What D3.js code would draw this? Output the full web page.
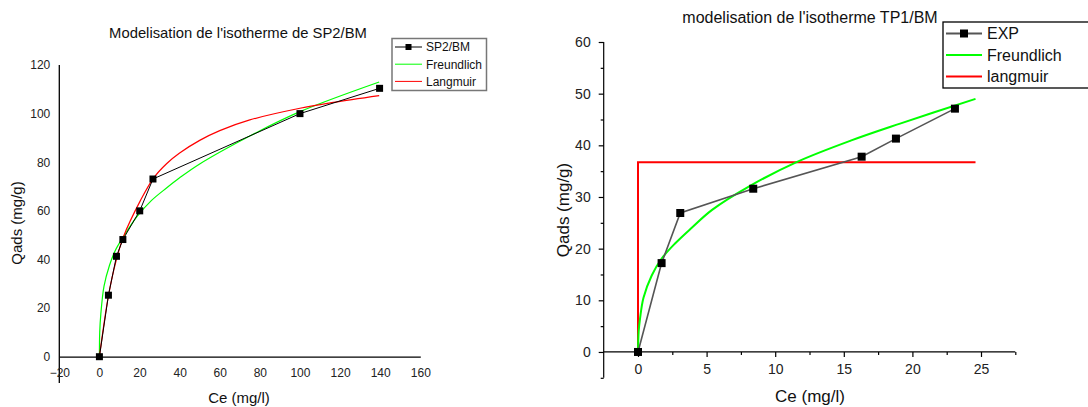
<!DOCTYPE html>
<html>
<head>
<meta charset="utf-8">
<script src="https://cdn.jsdelivr.net/npm/d3@7"></script>
<style>
  body { margin: 0; background: #fff; }
  svg { display: block; font-family: "Liberation Sans", Arial, sans-serif; }
</style>
</head>
<body>
<svg id="chart" width="1088" height="407"></svg>
<script>
// ---------- left panel : SP2/BM ----------
const sp2Ce   = [0, 4.5, 8.5, 11.7, 20.1, 26.7, 100, 139.7]
const sp2Qads = [0, 25.3, 41.3, 48.2, 60, 73.1, 100, 110.4]

const sp2FreundCe = [0, 0.15, 0.7, 2.3, 5, 7.8, 12, 18.7, 26, 33.6, 40, 50, 75, 100, 139.5]
const sp2FreundQ  = [0, 10, 17.5, 29, 37.5, 43.5, 49.4, 57.6, 64.3, 69.5, 73.6, 79.3, 90.8, 100.8, 113]

const sp2LangCe = [0, 4.5, 8.4, 12, 20.3, 26.9, 33.6, 40, 50, 60, 75, 100, 116.7, 139.5]
const sp2LangQ  = [0, 25, 39.7, 49.4, 64, 73.4, 79.5, 83.8, 89, 93, 97.4, 102.2, 104.6, 107.4]

const leftXTicks = [-20, 0, 20, 40, 60, 80, 100, 120, 140, 160]
const leftYTicks = [0, 20, 40, 60, 80, 100, 120]

// ---------- right panel : TP1/BM ----------
const tp1Ce   = [0, 1.72, 3.08, 8.4, 16.3, 18.8, 23.1]
const tp1Qads = [0, 17.2, 26.9, 31.6, 37.8, 41.3, 47.1]

const tp1FreundCe = [0, 0.05, 0.15, 0.4, 1, 1.7, 2.7, 3.9, 5.4, 8.2, 11.6, 15.5, 19.1, 24.6]
const tp1FreundQ  = [0, 4, 6.5, 10.5, 14.8, 18, 21, 24, 27.5, 32.2, 36.8, 40.9, 44.2, 49]

const tp1LangCe = [0, 0, 24.6]
const tp1LangQ  = [0, 36.7, 36.7]

const rightXTicks = [0, 2.5, 5, 7.5, 10, 12.5, 15, 17.5, 20, 22.5, 25, 27.5]
const rightYTicks = [-5, 0, 5, 10, 15, 20, 25, 30, 35, 40, 45, 50, 55, 60]

const zip = (xs, ys) => xs.map((x, i) => [x, ys[i]])

const svg = d3.select('#chart')

//========================== left chart ================================
let xL = d3.scaleLinear().domain([-20, 160]).range([59.3, 420.3])
let yL = d3.scaleLinear().domain([0, 120]).range([356.7, 65])

let gL = svg.append('g')

gL.append('text')
  .attr('x', 238).attr('y', 38)
  .attr('text-anchor', 'middle')
  .attr('font-size', 14.8).attr('fill', '#111')
  .text("Modelisation de l'isotherme de SP2/BM")

let axLY = gL.append('g')
  .attr('transform', `translate(${xL(-20)},0)`)
  .call(d3.axisLeft(yL).tickValues(leftYTicks).tickSize(0).tickPadding(9))
axLY.select('.domain').remove()
axLY.selectAll('text').attr('font-size', 12).attr('fill', '#222').attr('font-family', null)
gL.append('line')
  .attr('x1', xL(-20)).attr('x2', xL(-20))
  .attr('y1', yL(120)).attr('y2', 383)
  .attr('stroke', '#000').attr('stroke-width', 1.3)

let axLX = gL.append('g')
  .attr('transform', `translate(0,${yL(0)})`)
  .call(d3.axisBottom(xL).tickValues(leftXTicks).tickSize(0).tickPadding(12))
axLX.select('.domain').attr('stroke', '#000').attr('stroke-width', 1.3)
axLX.selectAll('text').attr('font-size', 12).attr('fill', '#222').attr('font-family', null)

gL.append('text')
  .attr('transform', 'translate(22,223) rotate(-90)')
  .attr('text-anchor', 'middle')
  .attr('font-size', 15).attr('fill', '#111')
  .text('Qads (mg/g)')
gL.append('text')
  .attr('x', 239).attr('y', 403)
  .attr('text-anchor', 'middle')
  .attr('font-size', 15).attr('fill', '#111')
  .text('Ce (mg/l)')

let lineL = d3.line().x(d => xL(d[0])).y(d => yL(d[1]))
let smoothL = d3.line().x(d => xL(d[0])).y(d => yL(d[1])).curve(d3.curveCatmullRom.alpha(0.5))

gL.append('path').datum(zip(sp2FreundCe, sp2FreundQ))
  .attr('d', smoothL).attr('fill', 'none').attr('stroke', '#00ff00').attr('stroke-width', 1.2)
gL.append('path').datum(zip(sp2LangCe, sp2LangQ))
  .attr('d', smoothL).attr('fill', 'none').attr('stroke', '#ff0000').attr('stroke-width', 1.2)
gL.append('path').datum(zip(sp2Ce, sp2Qads))
  .attr('d', lineL).attr('fill', 'none').attr('stroke', '#000').attr('stroke-width', 1)
gL.selectAll('rect.pt').data(zip(sp2Ce, sp2Qads)).join('rect')
  .attr('class', 'pt')
  .attr('x', d => xL(d[0]) - 3.5).attr('y', d => yL(d[1]) - 3.5)
  .attr('width', 7).attr('height', 7).attr('fill', '#000')

// legend
let legL = gL.append('g')
legL.append('rect')
  .attr('x', 392).attr('y', 38.5).attr('width', 94.5).attr('height', 52)
  .attr('fill', '#fff').attr('stroke', '#777').attr('stroke-width', 1.5)
let legLItems = [
  {name: 'SP2/BM', color: '#000', marker: true},
  {name: 'Freundlich', color: '#00ff00'},
  {name: 'Langmuir', color: '#ff0000'}
]
legLItems.forEach((it, i) => {
  let cy = 47 + i * 17.2
  legL.append('line').attr('x1', 395).attr('x2', 422).attr('y1', cy).attr('y2', cy)
    .attr('stroke', it.color).attr('stroke-width', 1)
  if (it.marker) {
    legL.append('rect').attr('x', 405.5).attr('y', cy - 3).attr('width', 6).attr('height', 6).attr('fill', '#000')
  }
  legL.append('text').attr('x', 426).attr('y', cy + 4.3)
    .attr('font-size', 12).attr('fill', '#111').text(it.name)
})

//========================== right chart ================================
let xR = d3.scaleLinear().domain([-2.5, 27.5]).range([603.7, 1015.3])
let yR = d3.scaleLinear().domain([-5, 60]).range([377.8, 42])

let gR = svg.append('g')

gR.append('text')
  .attr('x', 810).attr('y', 23)
  .attr('text-anchor', 'middle')
  .attr('font-size', 16).attr('fill', '#111')
  .text("modelisation de l'isotherme TP1/BM")

let axRY = gR.append('g')
  .attr('transform', `translate(${xR(-2.5)},0)`)
  .call(d3.axisLeft(yR).tickValues(rightYTicks).tickSize(5).tickPadding(8)
    .tickFormat(d => (d >= 0 && d % 10 === 0) ? d : ''))
axRY.select('.domain').attr('stroke', '#000').attr('stroke-width', 1.2).attr('d', `M0,${yR(-5)}V${yR(60)}`)
axRY.selectAll('.tick line').attr('stroke-width', 1.2).attr('x2', d => d % 10 === 0 ? -5 : -3)
axRY.selectAll('text').attr('font-size', 14).attr('fill', '#222').attr('font-family', null)

let axRX = gR.append('g')
  .attr('transform', `translate(0,${yR(0)})`)
  .call(d3.axisBottom(xR).tickValues(rightXTicks).tickSize(5).tickPadding(7)
    .tickFormat(d => d % 5 === 0 ? d : ''))
axRX.select('.domain').attr('stroke', '#000').attr('stroke-width', 1.2).attr('d', `M${xR(-2.5)},0H${xR(27.5)}`)
axRX.selectAll('.tick line').attr('stroke-width', 1.2).attr('y2', d => d % 5 === 0 ? 5 : 3)
axRX.selectAll('text').attr('font-size', 14).attr('fill', '#222').attr('font-family', null)

gR.append('text')
  .attr('transform', 'translate(569,210) rotate(-90)')
  .attr('text-anchor', 'middle')
  .attr('font-size', 17).attr('fill', '#111')
  .text('Qads (mg/g)')
gR.append('text')
  .attr('x', 810).attr('y', 402)
  .attr('text-anchor', 'middle')
  .attr('font-size', 17).attr('fill', '#111')
  .text('Ce (mg/l)')

let lineR = d3.line().x(d => xR(d[0])).y(d => yR(d[1]))
let smoothR = d3.line().x(d => xR(d[0])).y(d => yR(d[1])).curve(d3.curveCatmullRom.alpha(0.5))

gR.append('path').datum(zip(tp1LangCe, tp1LangQ))
  .attr('d', lineR).attr('fill', 'none').attr('stroke', '#ff0000').attr('stroke-width', 2)
gR.append('path').datum(zip(tp1FreundCe, tp1FreundQ))
  .attr('d', smoothR).attr('fill', 'none').attr('stroke', '#00ff00').attr('stroke-width', 2)
gR.append('path').datum(zip(tp1Ce, tp1Qads))
  .attr('d', lineR).attr('fill', 'none').attr('stroke', '#555').attr('stroke-width', 1.6)
gR.selectAll('rect.pt').data(zip(tp1Ce, tp1Qads)).join('rect')
  .attr('class', 'pt')
  .attr('x', d => xR(d[0]) - 4).attr('y', d => yR(d[1]) - 4)
  .attr('width', 8).attr('height', 8).attr('fill', '#000')

// legend (runs past the right edge like the original)
let legR = gR.append('g')
legR.append('rect')
  .attr('x', 943).attr('y', 22).attr('width', 160).attr('height', 66)
  .attr('fill', '#fff').attr('stroke', '#000').attr('stroke-width', 1.3)
let legRItems = [
  {name: 'EXP', color: '#555', marker: true},
  {name: 'Freundlich', color: '#00ff00'},
  {name: 'langmuir', color: '#ff0000'}
]
legRItems.forEach((it, i) => {
  let cy = 33.5 + i * 21.5
  legR.append('line').attr('x1', 946).attr('x2', 982).attr('y1', cy).attr('y2', cy)
    .attr('stroke', it.color).attr('stroke-width', 2)
  if (it.marker) {
    legR.append('rect').attr('x', 960).attr('y', cy - 4).attr('width', 8).attr('height', 8).attr('fill', '#000')
  }
  legR.append('text').attr('x', 987).attr('y', cy + 5.8)
    .attr('font-size', 16).attr('fill', '#111').text(it.name)
})
</script>
</body>
</html>
